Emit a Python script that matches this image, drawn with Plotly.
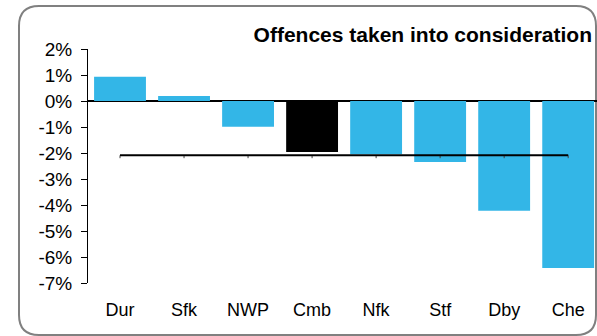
import plotly.graph_objects as go

categories = ["Dur", "Sfk", "NWP", "Cmb", "Nfk", "Stf", "Dby", "Che"]
values = [0.93, 0.19, -0.99, -1.96, -2.05, -2.35, -4.22, -6.42]
highlight = "Cmb"
average = -2.09
y_ticks = [2, 1, 0, -1, -2, -3, -4, -5, -6, -7]
y_tick_labels = [f"{v}%" for v in y_ticks]
title_text = "Offences taken into consideration"

BLUE = "#33B6E7"
colors = ["#000000" if c == highlight else BLUE for c in categories]

W, H = 597, 336
ML, MR, MT, MB = 88, 0, 49, 53
pw, ph = W - ML - MR, H - MT - MB

fig = go.Figure()
fig.add_trace(go.Bar(x=categories, y=values, marker=dict(color=colors, line=dict(width=0)),
                     showlegend=False))
fig.add_trace(go.Scatter(x=categories, y=[average] * len(categories), mode="lines",
                         line=dict(color="#000000", width=2),
                         error_y=dict(type="data", symmetric=False,
                                      array=[0] * len(categories),
                                      arrayminus=[0.11] * len(categories),
                                      width=0, thickness=1, color="#444444"),
                         showlegend=False))

# rounded border (pixel -> paper conversion)
def px(x):
    return (x - ML) / pw

def py(y):
    return (H - MB - y) / ph

x0, x1, y0, y1, r = 19, 596, 6, 335, 20
path = (f"M {px(x0 + r)},{py(y0)} L {px(x1 - r)},{py(y0)} "
        f"Q {px(x1)},{py(y0)} {px(x1)},{py(y0 + r)} "
        f"L {px(x1)},{py(y1 - r)} Q {px(x1)},{py(y1)} {px(x1 - r)},{py(y1)} "
        f"L {px(x0 + r)},{py(y1)} Q {px(x0)},{py(y1)} {px(x0)},{py(y1 - r)} "
        f"L {px(x0)},{py(y0 + r)} Q {px(x0)},{py(y0)} {px(x0 + r)},{py(y0)} Z")
fig.add_shape(type="path", path=path, xref="paper", yref="paper",
              line=dict(color="#808080", width=2), layer="below")

FONT = "Liberation Sans, Arial, sans-serif"
fig.update_layout(
    width=W, height=H,
    margin=dict(l=ML, r=MR, t=MT, b=MB),
    paper_bgcolor="white", plot_bgcolor="white",
    bargap=0.19,
    font=dict(family=FONT, color="#000000"),
    title=dict(text=f"<b>{title_text}</b>", x=592 / W, xanchor="right",
               y=1 - 35 / H, yanchor="middle", xref="container", yref="container",
               font=dict(size=21, family=FONT, color="#000000")),
)
fig.update_xaxes(range=[-0.5, 7.45], showline=False, showgrid=False, zeroline=False,
                 ticks="", tickfont=dict(size=18), ticklabelstandoff=14)
fig.update_yaxes(range=[-7, 2], tickvals=y_ticks, ticktext=y_tick_labels,
                 showline=True, linecolor="#000000", linewidth=1,
                 ticks="outside", ticklen=6, tickcolor="#000000", tickwidth=1,
                 showgrid=False, zeroline=True, zerolinecolor="#000000", zerolinewidth=1.5,
                 tickfont=dict(size=19), ticklabelstandoff=5)

fig.write_html("out.html", config={"displayModeBar": False},
               post_script="document.body.style.margin='0';document.body.style.overflow='hidden';")
